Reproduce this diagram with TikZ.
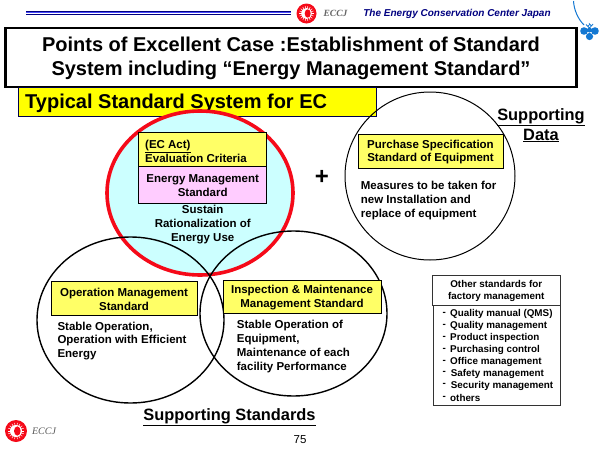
\documentclass[tikz,border=0pt]{standalone}
\usepackage{fontspec}
\setmainfont{Liberation Sans}
\newfontfamily\ecserif{Liberation Serif}
\definecolor{ecblue}{RGB}{0,0,128}
\definecolor{ecy}{RGB}{255,255,0}
\definecolor{ecy2}{RGB}{255,255,102}
\definecolor{ecpink}{RGB}{255,204,255}
\definecolor{eccyan}{RGB}{204,255,255}
\definecolor{ecred}{RGB}{245,10,25}
\definecolor{ecclover}{RGB}{20,120,210}
\tikzset{
 txt/.style={font=\bfseries\fontsize{11.5}{13.8}\selectfont,align=center,inner sep=0pt,text=black},
 txtl/.style={font=\bfseries\fontsize{11.5}{13.8}\selectfont,align=left,inner sep=0pt,text=black,anchor=west},
 small/.style={font=\bfseries\fontsize{9.85}{12}\selectfont,align=center,inner sep=0pt,text=black},
 big/.style={font=\bfseries\fontsize{16.4}{19.5}\selectfont,align=center,inner sep=0pt,text=black},
 boxy/.style={draw=black,line width=1.2pt,fill=ecy2,inner sep=0pt},
 thinbox/.style={draw=black!80,line width=0.8pt,fill=white,inner sep=0pt},
 circ/.style={draw=black,line width=1.4pt},
}
\newcommand{\eclogo}[3]{%
 \fill[ecred] (#1,#2) circle (#3);
 \foreach \a in {0,20,...,340}{\draw[white,line width=0.5pt] (#1,#2) ++(\a:0.45*#3) -- ++(\a:0.3*#3);}
 \fill[white] (#1,#2) circle (0.55*#3);
 \fill[ecred] (#1+0.12*#3,#2) ellipse (0.3*#3 and 0.42*#3);
}
\begin{document}
\begin{tikzpicture}[x=1pt,y=-1pt]
\useasboundingbox (0,0) rectangle (600,450);
\fill[white] (0,0) rectangle (600,450);
% header
\draw[ecblue,line width=0.5pt] (26,10.8) -- (291,10.8);
\draw[blue!70!white,line width=1pt] (26,12.6) -- (291,12.6);
\draw[ecblue,line width=0.5pt] (26,14.4) -- (291,14.4);
\eclogo{306.5}{13.5}{10}
\node[font=\ecserif\itshape\bfseries\fontsize{9.5}{9.5}\selectfont,text=black!60,inner sep=0pt] (ecc) at (335.5,13.5) {ECCJ};
\node[font=\itshape\bfseries\fontsize{10}{10}\selectfont,text=ecblue,inner sep=0pt] (cen) at (457,13.5) {The Energy Conservation Center Japan};
% clover
\draw[ecclover,line width=1pt] (573.5,1) .. controls (574,10) and (578,19) .. (584,25);
\fill[ecclover] (584,31) circle (3.8) (595,31) circle (3.8) (589.5,36.5) circle (3.6) (589.5,30) circle (2.5);
\draw[ecclover,line width=0.8pt] (589.5,28) -- (586,24.5) arc (180:0:1.8) -- (589.5,24) -- (589.5,24) arc (180:0:1.8) -- cycle;
% title
\node[draw=black,line width=2.4pt,fill=white,minimum width=571pt,minimum height=58.5pt,inner sep=0pt] (title) at (291,57.5) {};
\node[font=\bfseries\fontsize{20}{24.5}\selectfont,align=center,inner sep=0pt] (titlet) at (291,58.3) {Points of Excellent Case :Establishment of Standard\\System including “Energy Management Standard”};
% subtitle
\node[draw=black!70!blue,line width=0.7pt,fill=ecy,minimum width=358pt,minimum height=29.5pt,inner sep=0pt] (sub) at (197,102) {};
\node[font=\bfseries\fontsize{20}{20}\selectfont,inner sep=0pt,anchor=west] (subt) at (25,103.5) {Typical Standard System for EC};
% red circle
\filldraw[draw=ecred,line width=3.6pt,fill=eccyan] (200,193) ellipse (93 and 82);
% black circles
\draw[circ] (130.5,320) ellipse (93.5 and 83);
\draw[circ] (293.5,313.5) ellipse (93.5 and 82.5);
\draw[black,line width=1pt] (430,176) ellipse (85 and 84);
% top boxes
\node[boxy,minimum width=128pt,minimum height=34pt] (eval) at (202.7,149.7) {};
\node[boxy,fill=ecpink,minimum width=128pt,minimum height=36.5pt] (ems) at (202.7,185) {};
\node[txtl] (evalt) at (145,151) {\underline{(EC Act)}\\Evaluation Criteria};
\node[txt] (emst) at (202.7,185.3) {Energy Management\\Standard};
\node[txt] (sust) at (202.7,224.5) {Sustain\\Rationalization of\\Energy Use};
% plus
\node[font=\bfseries\fontsize{24}{24}\selectfont,inner sep=0pt] (plus) at (322,177) {+};
% purchase
\node[boxy,line width=1pt,minimum width=145pt,minimum height=34pt] (pur) at (430.5,151) {};
\node[txt] (purt) at (430.5,152) {Purchase Specification\\Standard of Equipment};
\node[txtl] (purd) at (360.7,200.5) {Measures to be taken for\\new Installation and\\replace of equipment};
% supporting data
\node[big] (sd) at (541,125.5) {\underline{Supporting}\\\underline{Data}};
% op
\node[boxy,line width=1pt,minimum width=146pt,minimum height=34pt] (op) at (124,298) {};
\node[txt] (opt) at (124,299) {Operation Management\\Standard};
\node[txtl] (opd) at (57.3,341) {Stable Operation,\\Operation with Efficient\\Energy};
% insp
\node[boxy,line width=1pt,minimum width=158pt,minimum height=33pt] (ins) at (302,296.5) {};
\node[txt] (inst) at (302,297.5) {Inspection \& Maintenance\\Management Standard};
\node[txtl] (insd) at (236.7,346.5) {Stable Operation of\\Equipment,\\Maintenance of each\\facility Performance};
% other
\node[thinbox,minimum width=128pt,minimum height=30pt] (oth) at (496.3,290) {};
\node[small] (otht) at (496.3,290.5) {Other standards for\\factory management};
\node[thinbox,minimum width=127pt,minimum height=100pt] (othl) at (497,355) {};
\foreach \n/\yy/\xx/\t in {a/314/450/Quality manual (QMS),b/326.3/450/Quality management,c/338.3/450/Product inspection,d/350/450/Purchasing control,e/362/450/Office management,f/373.7/450.7/Safety management,g/385.7/450.7/Security management,h/398/450/others}{
  \node[small,anchor=west] (l\n) at (\xx,\yy) {\t};
  \node[small] (m\n) at (444.3,\yy-0.3) {-};
}
% footer
\node[big] (ss) at (229.5,417) {\underline{Supporting Standards}};
\node[font=\fontsize{11.5}{11.5}\selectfont,inner sep=0pt] (pg) at (300,440) {75};
\eclogo{16}{431}{11}
\node[font=\ecserif\itshape\fontsize{10}{10}\selectfont,text=black!65,inner sep=0pt] (ecf) at (44,431.7) {ECCJ};
\end{tikzpicture}
\end{document}
